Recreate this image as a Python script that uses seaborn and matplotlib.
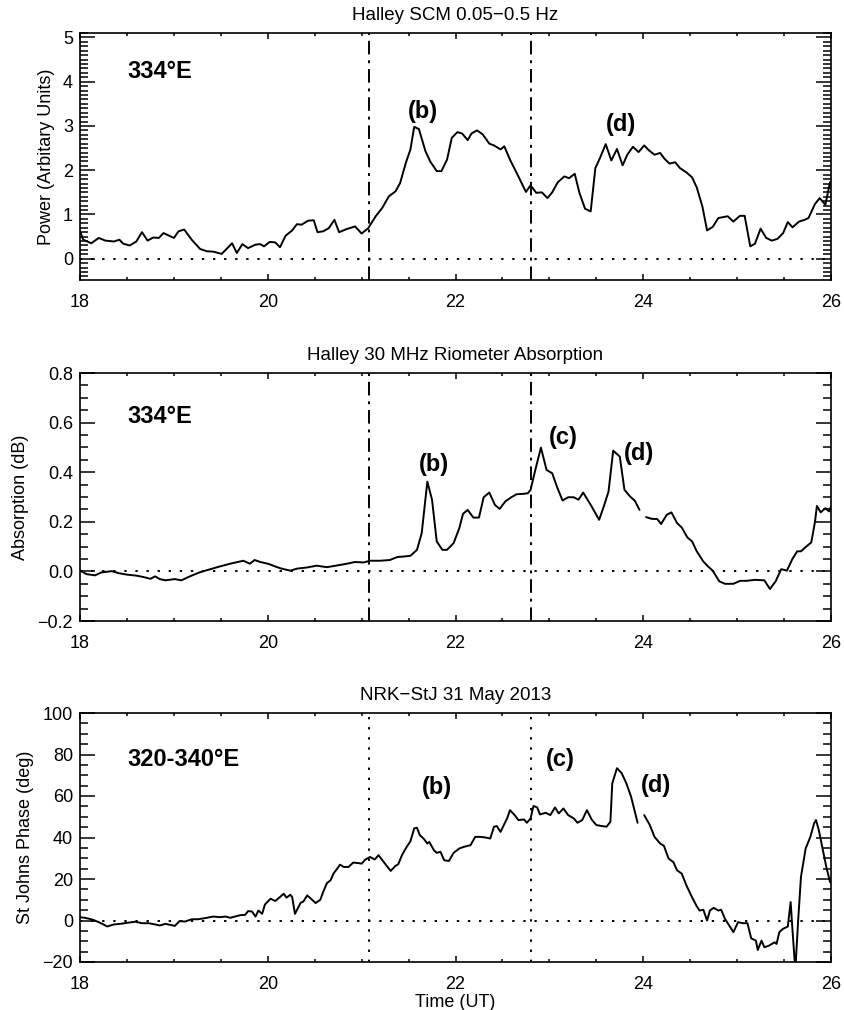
import numpy as np
import pandas as pd
import matplotlib
matplotlib.use("Agg")
import matplotlib.pyplot as plt
import seaborn as sns
from matplotlib.ticker import MultipleLocator

# ---------------- data ----------------
power_t = [18.0, 18.035, 18.12, 18.2, 18.27, 18.36, 18.42, 18.46, 18.53, 18.6, 18.66, 18.72, 18.78, 18.84,
           18.89, 19.0, 19.05, 19.11, 19.19, 19.28, 19.35, 19.42, 19.51, 19.62, 19.67, 19.73, 19.79, 19.87,
           19.92, 19.96, 20.02, 20.08, 20.13, 20.19, 20.26, 20.31, 20.36, 20.43, 20.49, 20.53, 20.59, 20.65,
           20.71, 20.76, 20.84, 20.93, 21.0, 21.07, 21.15, 21.22, 21.29, 21.36, 21.41, 21.47, 21.52, 21.56,
           21.61, 21.68, 21.73, 21.80, 21.85, 21.91, 21.96, 22.02, 22.07, 22.13, 22.17, 22.23, 22.29, 22.36,
           22.41, 22.48, 22.52, 22.58, 22.67, 22.75, 22.8, 22.86, 22.92, 22.98, 23.03, 23.09, 23.16, 23.21,
           23.27, 23.32, 23.38, 23.44, 23.49, 23.54, 23.6, 23.66, 23.72, 23.78, 23.83, 23.89, 23.95, 24.01,
           24.06, 24.12, 24.18, 24.23, 24.28, 24.34, 24.39, 24.46, 24.52, 24.57, 24.63, 24.68, 24.74, 24.8,
           24.9, 24.96, 25.03, 25.08, 25.14, 25.19, 25.25, 25.31, 25.37, 25.43, 25.49, 25.54, 25.59, 25.66,
           25.72, 25.76, 25.83, 25.88, 25.94, 25.99]
power_v = [0.62, 0.43, 0.35, 0.47, 0.41, 0.39, 0.43, 0.34, 0.30, 0.39, 0.60, 0.41, 0.48, 0.47,
           0.58, 0.47, 0.62, 0.66, 0.43, 0.22, 0.17, 0.16, 0.11, 0.35, 0.13, 0.33, 0.24, 0.32,
           0.33, 0.28, 0.38, 0.37, 0.26, 0.52, 0.64, 0.78, 0.77, 0.86, 0.87, 0.60, 0.62, 0.69,
           0.88, 0.60, 0.67, 0.73, 0.57, 0.69, 0.96, 1.15, 1.41, 1.52, 1.71, 2.16, 2.47, 2.98,
           2.93, 2.43, 2.20, 1.98, 1.98, 2.24, 2.73, 2.86, 2.83, 2.68, 2.83, 2.90, 2.81, 2.60,
           2.56, 2.47, 2.54, 2.24, 1.86, 1.51, 1.66, 1.49, 1.50, 1.37, 1.50, 1.73, 1.86, 1.82,
           1.92, 1.49, 1.13, 1.07, 2.05, 2.28, 2.59, 2.22, 2.48, 2.11, 2.35, 2.53, 2.41, 2.56,
           2.45, 2.35, 2.39, 2.25, 2.15, 2.18, 2.05, 1.95, 1.84, 1.61, 1.18, 0.64, 0.72, 0.92,
           0.96, 0.84, 0.97, 0.97, 0.28, 0.34, 0.68, 0.47, 0.41, 0.45, 0.58, 0.83, 0.71, 0.84,
           0.88, 0.92, 1.24, 1.37, 1.22, 1.73]

absorb_t1 = [18.0, 18.07, 18.16, 18.23, 18.34, 18.41, 18.5, 18.6, 18.68, 18.75, 18.8, 18.85, 18.91, 19.01,
             19.08, 19.17, 19.28, 19.39, 19.49, 19.6, 19.74, 19.81, 19.86, 19.92, 20.01, 20.1, 20.15, 20.24,
             20.31, 20.42, 20.52, 20.63, 20.74, 20.83, 20.93, 21.02, 21.09, 21.2, 21.3, 21.38, 21.45, 21.52,
             21.59, 21.64, 21.7, 21.75, 21.8, 21.86, 21.91, 21.98, 22.04, 22.08, 22.13, 22.19, 22.25, 22.3,
             22.36, 22.42, 22.47, 22.53, 22.59, 22.65, 22.73, 22.77, 22.8, 22.85, 22.91, 22.97, 23.03, 23.08,
             23.14, 23.2, 23.26, 23.31, 23.36, 23.45, 23.53, 23.58, 23.63, 23.68, 23.75, 23.8, 23.86, 23.91,
             23.96]
absorb_v1 = [0.003, -0.011, -0.016, -0.004, 0.001, -0.007, -0.013, -0.017, -0.023, -0.030, -0.020, -0.031,
             -0.036, -0.031, -0.036, -0.020, -0.003, 0.009, 0.020, 0.031, 0.043, 0.031, 0.046, 0.038, 0.030,
             0.017, 0.011, 0.003, 0.011, 0.016, 0.023, 0.017, 0.024, 0.030, 0.038, 0.036, 0.043, 0.043, 0.046,
             0.058, 0.060, 0.063, 0.087, 0.154, 0.362, 0.289, 0.121, 0.087, 0.087, 0.114, 0.174, 0.232, 0.248,
             0.217, 0.217, 0.299, 0.318, 0.268, 0.252, 0.282, 0.298, 0.311, 0.313, 0.315, 0.329, 0.409, 0.499,
             0.409, 0.396, 0.342, 0.286, 0.299, 0.299, 0.289, 0.318, 0.262, 0.208, 0.262, 0.322, 0.487, 0.463,
             0.329, 0.302, 0.285, 0.248]
absorb_t2 = [24.03, 24.09, 24.15, 24.19, 24.25, 24.3, 24.36, 24.41, 24.47, 24.52, 24.57, 24.64, 24.69, 24.74,
             24.81, 24.87, 24.96, 25.03, 25.1, 25.19, 25.29, 25.35, 25.41, 25.47, 25.53, 25.59, 25.64, 25.68,
             25.73, 25.79, 25.83, 25.85, 25.89, 25.94, 25.98, 26.0]
absorb_v2 = [0.219, 0.212, 0.211, 0.191, 0.228, 0.238, 0.195, 0.177, 0.137, 0.121, 0.081, 0.040, 0.020, 0.003,
             -0.040, -0.050, -0.050, -0.038, -0.038, -0.034, -0.036, -0.071, -0.040, 0.009, 0.003, 0.051,
             0.081, 0.081, 0.098, 0.117, 0.201, 0.264, 0.238, 0.255, 0.242, 0.262]

phase_t1 = [18.0, 18.05, 18.1, 18.14, 18.2, 18.25, 18.29, 18.36, 18.43, 18.52, 18.59, 18.66, 18.73, 18.8,
            18.85, 18.91, 18.96, 19.01, 19.06, 19.12, 19.19, 19.26, 19.35, 19.42, 19.49, 19.55, 19.6, 19.65,
            19.71, 19.76, 19.79, 19.83, 19.87, 19.9, 19.94, 19.97, 20.03, 20.08, 20.13, 20.17, 20.2, 20.24,
            20.26, 20.29, 20.35, 20.38, 20.42, 20.46, 20.51, 20.56, 20.59, 20.63, 20.67, 20.7, 20.74, 20.77,
            20.81, 20.86, 20.91, 20.96, 21.0, 21.04, 21.09, 21.14, 21.18, 21.23, 21.29, 21.31, 21.36, 21.39,
            21.43, 21.48, 21.52, 21.56, 21.59, 21.62, 21.66, 21.7, 21.72, 21.77, 21.8, 21.84, 21.88, 21.93,
            21.98, 22.04, 22.09, 22.16, 22.21, 22.27, 22.32, 22.37, 22.41, 22.44, 22.48, 22.52, 22.55, 22.58,
            22.63, 22.67, 22.73, 22.76, 22.8, 22.83, 22.87, 22.9, 22.96, 23.01, 23.06, 23.1, 23.15, 23.2,
            23.26, 23.3, 23.35, 23.4, 23.45, 23.5, 23.56, 23.61, 23.65, 23.67, 23.72, 23.77, 23.82, 23.87,
            23.94]
phase_v1 = [1.6, 1.3, 0.8, 0.3, -0.8, -1.9, -2.9, -1.9, -1.6, -1.0, -0.6, -1.3, -1.3, -1.9,
            -2.4, -1.6, -2.1, -2.6, -0.3, -0.5, 0.6, 0.6, 1.3, 1.9, 1.6, 1.9, 1.3, 1.9,
            2.6, 2.7, 4.5, 4.4, 1.9, 4.8, 3.2, 7.7, 10.5, 9.4, 11.3, 12.9, 11.0, 12.4,
            11.3, 3.2, 8.5, 9.2, 12.1, 10.5, 8.4, 10.0, 13.7, 18.0, 19.4, 22.6, 25.0, 26.9,
            25.8, 25.8, 27.9, 27.7, 27.4, 29.4, 30.6, 29.4, 31.5, 28.5, 25.0, 23.9, 26.3, 27.1,
            31.5, 35.5, 38.2, 44.4, 44.7, 41.1, 39.5, 37.1, 37.9, 33.9, 32.6, 33.1, 29.0, 28.7,
            32.6, 34.7, 35.5, 36.3, 40.3, 40.3, 40.0, 39.5, 45.2, 45.5, 42.7, 46.5, 49.2, 53.2,
            50.8, 48.4, 48.7, 47.1, 49.2, 55.2, 54.5, 51.1, 51.9, 50.8, 54.5, 51.6, 54.0, 50.8,
            49.2, 47.1, 48.4, 53.2, 48.7, 46.0, 45.5, 45.2, 47.6, 66.1, 73.4, 71.0, 66.1, 59.7,
            47.1]
phase_t2 = [24.01, 24.07, 24.12, 24.18, 24.22, 24.27, 24.32, 24.36, 24.41, 24.46, 24.51, 24.57, 24.6, 24.64,
            24.68, 24.71, 24.75, 24.8, 24.83, 24.87, 24.92, 24.96, 25.01, 25.06, 25.11, 25.15, 25.2, 25.22,
            25.26, 25.29, 25.34, 25.4, 25.42, 25.45, 25.49, 25.54, 25.57, 25.59, 25.62, 25.65, 25.68, 25.73,
            25.78, 25.82, 25.84, 25.87, 25.91, 25.95, 25.99]
phase_v2 = [50.8, 46.0, 40.3, 37.1, 36.0, 29.8, 28.2, 24.2, 22.6, 16.9, 12.1, 6.8, 4.8, 5.2,
            0.0, 4.8, 6.1, 4.8, 5.2, 0.8, -2.7, -5.6, -0.8, -1.3, -1.3, -8.6, -9.7, -14.2,
            -9.7, -12.9, -12.1, -10.5, -11.3, -5.6, -4.0, -2.9, 8.9, -4.8, -24.0, 0.0, 21.0, 34.7,
            40.3, 46.8, 48.4, 43.6, 34.7, 25.8, 18.5]

event_times = [21.08, 22.8]
x_ticks = [18, 20, 22, 24, 26]

titles = ["Halley SCM 0.05\u22120.5 Hz", "Halley 30 MHz Riometer Absorption", "NRK\u2212StJ 31 May 2013"]
ylabels = ["Power (Arbitary Units)", "Absorption (dB)", "St Johns Phase (deg)"]
region_labels = ["334\u00b0E", "334\u00b0E", "320-340\u00b0E"]

# ---------------- style ----------------
sns.set_style("ticks")
plt.rcParams["font.family"] = ["Liberation Sans", "DejaVu Sans"]
plt.rcParams["axes.linewidth"] = 1.2
plt.rcParams["text.color"] = "black"
plt.rcParams["axes.labelcolor"] = "black"
plt.rcParams["xtick.color"] = "black"
plt.rcParams["ytick.color"] = "black"

fig = plt.figure(figsize=(8.45, 10.10), dpi=100)
L, W = 80 / 845, 751 / 845
axes_px = [(33, 280), (373, 621), (713, 962)]
axes = [fig.add_axes([L, 1 - b / 1010, W, (b - t) / 1010]) for t, b in axes_px]

ylims = [(-0.48, 5.1), (-0.2, 0.8), (-20, 100)]
ymaj = [1, 0.2, 20]
ymin = [0.1, 0.05, 5]
yfmt = [lambda v: f"{v:g}", lambda v: f"{v:.1f}".replace("-", "\u2212"), lambda v: f"{v:g}".replace("-", "\u2212")]

series = [
    [(power_t, power_v)],
    [(absorb_t1, absorb_v1), (absorb_t2, absorb_v2)],
    [(phase_t1, phase_v1), (phase_t2, phase_v2)],
]
vstyles = [(0, (7, 3, 1.5, 3)), (0, (7, 3, 1.5, 3)), (0, (1.2, 4))]

for i, ax in enumerate(axes):
    for tt, vv in series[i]:
        df = pd.DataFrame({"t": tt, "v": vv})
        sns.lineplot(data=df, x="t", y="v", ax=ax, color="black", lw=1.4, sort=False, estimator=None)
    ax.axhline(0, color="black", lw=1.4, ls=(0, (1.2, 4.5)))
    for et in event_times:
        ax.axvline(et, color="black", lw=1.4, ls=vstyles[i])
    ax.set_xlim(18, 26)
    ax.set_ylim(*ylims[i])
    ax.set_xticks(x_ticks)
    ax.xaxis.set_minor_locator(MultipleLocator(0.5))
    ax.yaxis.set_major_locator(MultipleLocator(ymaj[i]))
    ax.yaxis.set_minor_locator(MultipleLocator(ymin[i]))
    ax.set_yticklabels([yfmt[i](v) for v in ax.get_yticks()])
    ax.set_ylim(*ylims[i])
    ax.tick_params(which="both", direction="in", top=True, right=True, labelsize=13, width=1.1,
                   colors="black", labelcolor="black")
    ax.tick_params(axis="y", which="major", length=11, pad=5)
    ax.tick_params(axis="y", which="minor", length=5.5)
    ax.tick_params(axis="x", which="major", length=4.5, pad=10)
    ax.tick_params(axis="x", which="minor", length=2.5)
    ax.set_title(titles[i], fontsize=13.5, pad=9, color="black")
    ax.set_ylabel(ylabels[i], fontsize=13, labelpad=6, color="black")
    ax.set_xlabel("Time (UT)" if i == 2 else "", fontsize=13, labelpad=1, color="black")
    for sp in ax.spines.values():
        sp.set_visible(True)
        sp.set_color("black")

# annotations
ann_kw = dict(fontsize=17, fontweight="bold", va="center", color="black")
axes[0].text(18.5, 4.23, region_labels[0], ha="left", **ann_kw)
axes[0].text(21.65, 3.33, "(b)", ha="center", **ann_kw)
axes[0].text(23.76, 3.03, "(d)", ha="center", **ann_kw)
axes[1].text(18.5, 0.625, region_labels[1], ha="left", **ann_kw)
axes[1].text(21.77, 0.433, "(b)", ha="center", **ann_kw)
axes[1].text(23.15, 0.54, "(c)", ha="center", **ann_kw)
axes[1].text(23.95, 0.477, "(d)", ha="center", **ann_kw)
axes[2].text(18.5, 77.4, region_labels[2], ha="left", **ann_kw)
axes[2].text(21.8, 63.9, "(b)", ha="center", **ann_kw)
axes[2].text(23.12, 77.4, "(c)", ha="center", **ann_kw)
axes[2].text(24.14, 65.3, "(d)", ha="center", **ann_kw)

fig.savefig("out.png", dpi=100, facecolor="white")
